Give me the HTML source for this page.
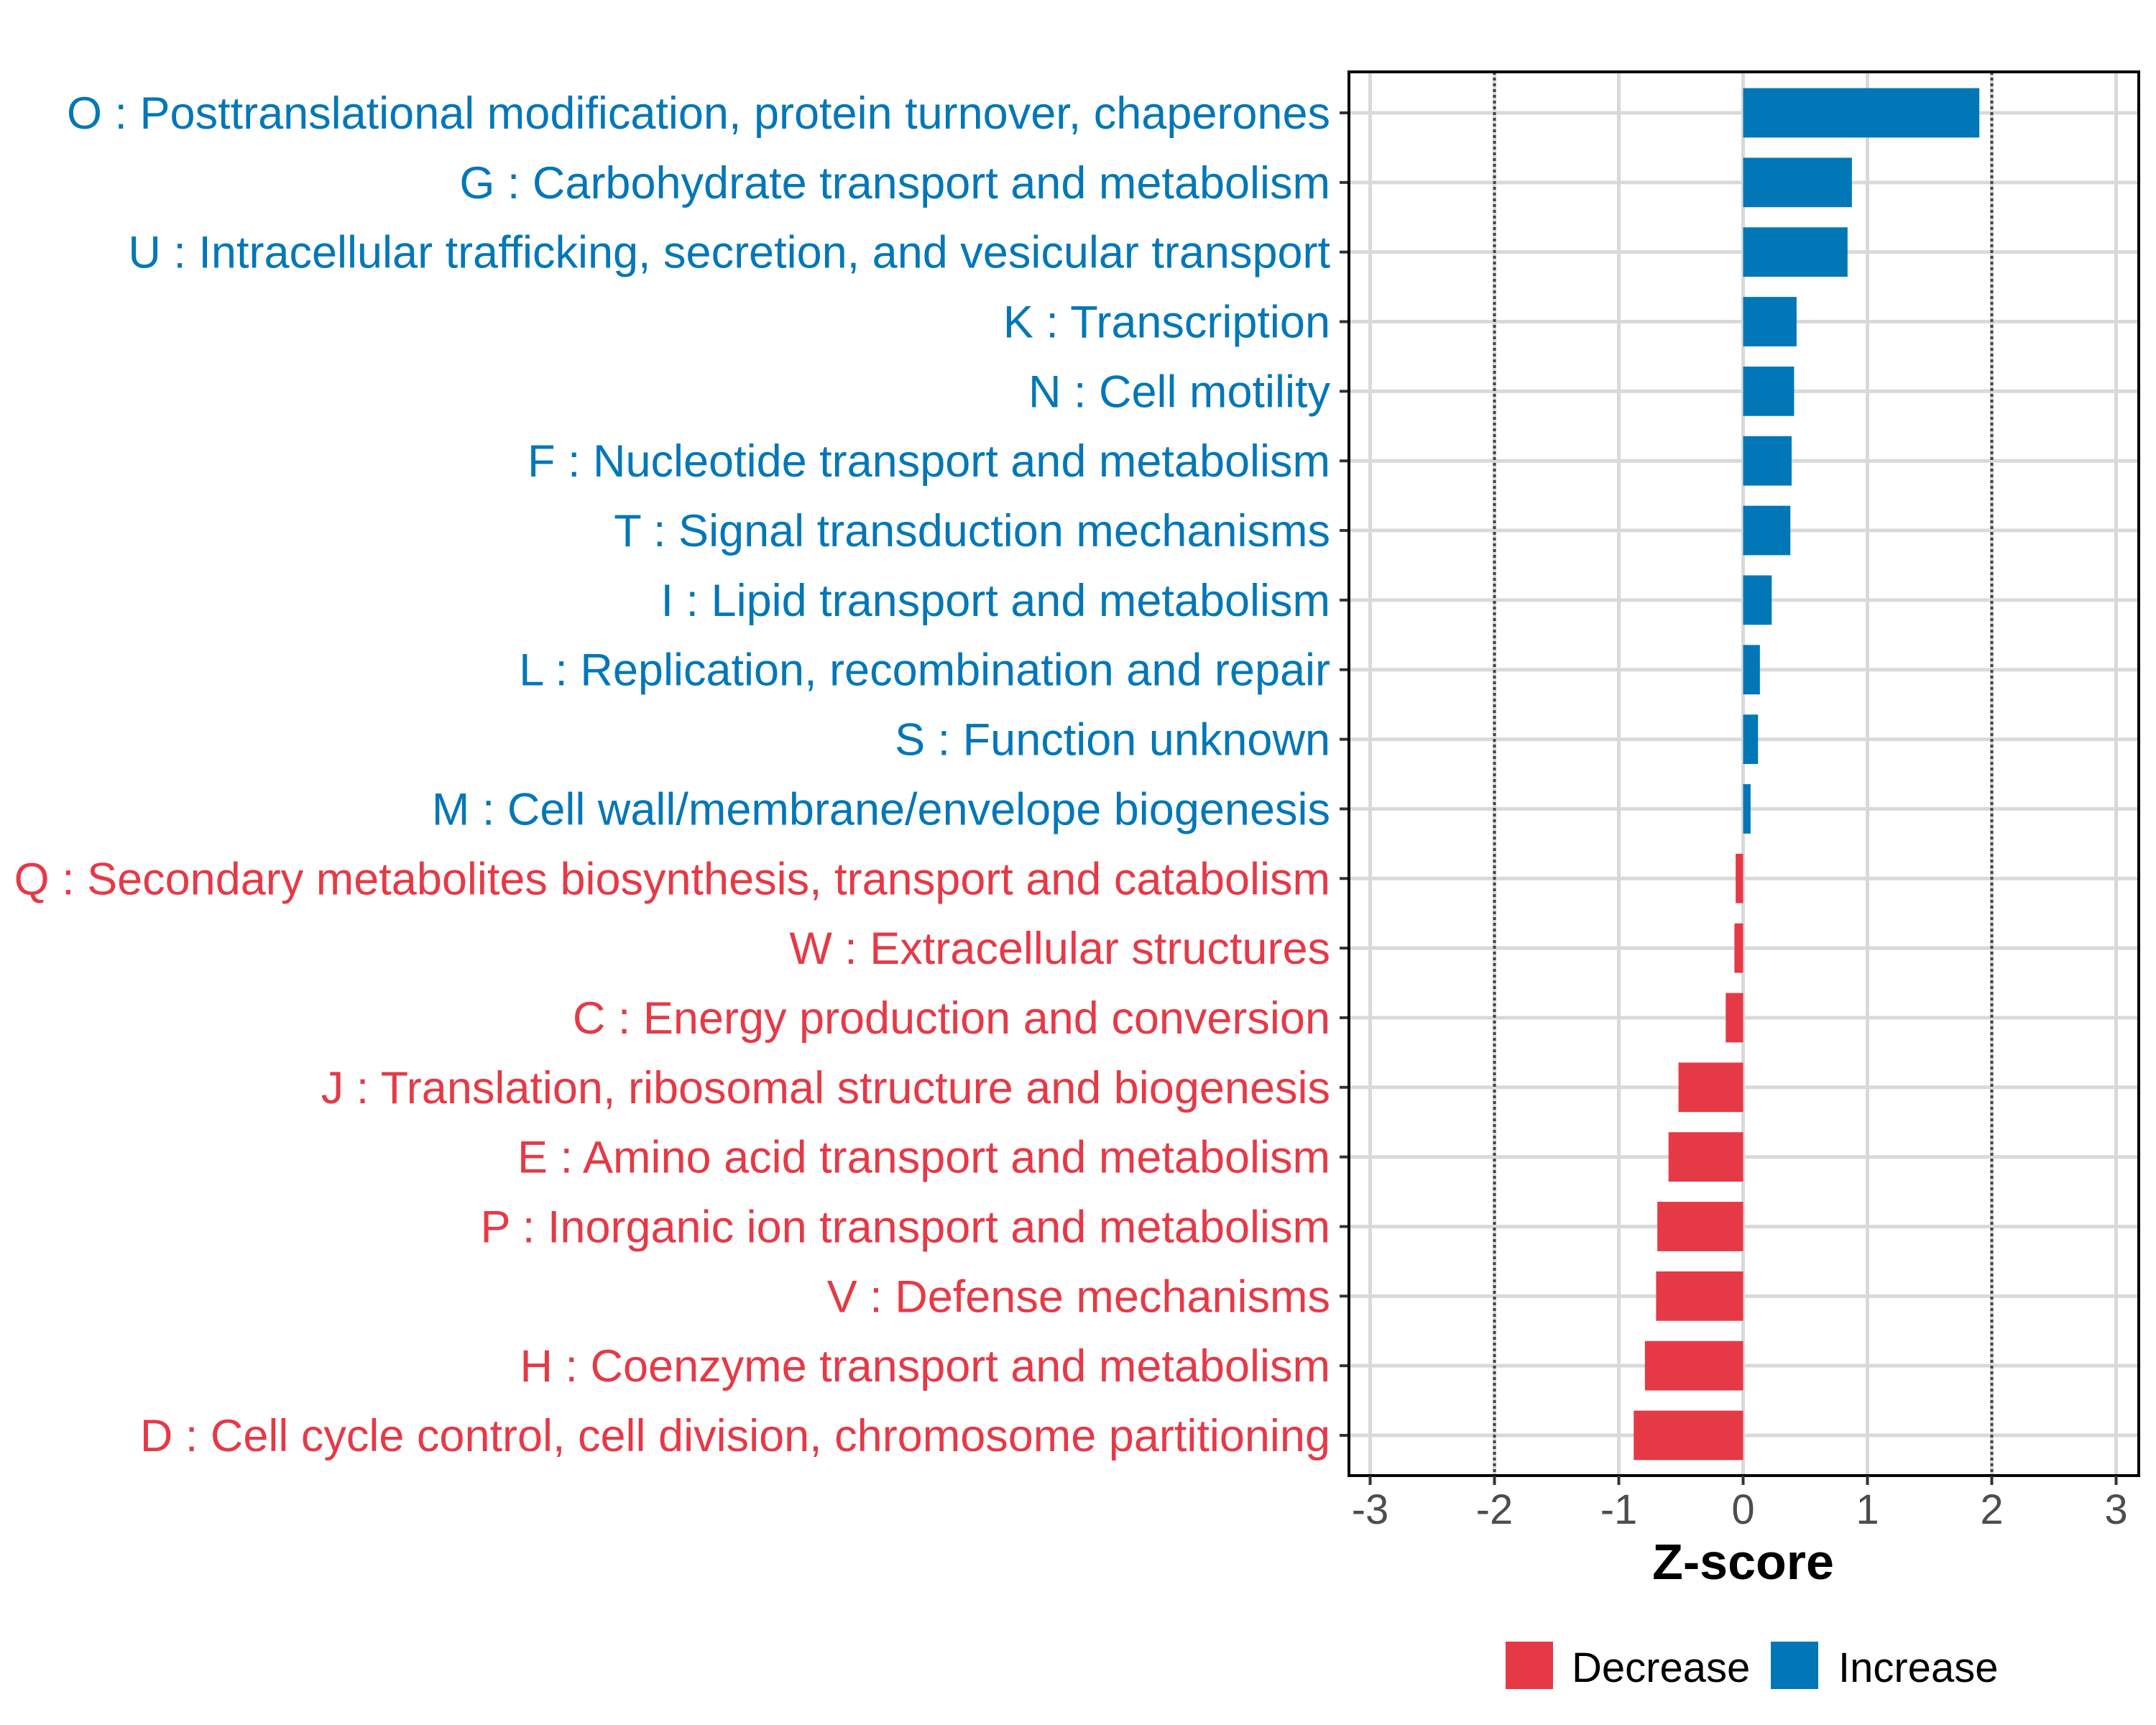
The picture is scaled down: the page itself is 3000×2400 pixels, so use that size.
<!DOCTYPE html>
<html><head><meta charset="utf-8">
<style>html,body{margin:0;padding:0;background:#fff}svg{display:block}</style></head>
<body>
<svg id="chart" width="3000" height="2400" xmlns="http://www.w3.org/2000/svg" font-family="Liberation Sans, sans-serif"></svg>
<script>
const categories = [
"O : Posttranslational modification, protein turnover, chaperones",
"G : Carbohydrate transport and metabolism",
"U : Intracellular trafficking, secretion, and vesicular transport",
"K : Transcription",
"N : Cell motility",
"F : Nucleotide transport and metabolism",
"T : Signal transduction mechanisms",
"I : Lipid transport and metabolism",
"L : Replication, recombination and repair",
"S : Function unknown",
"M : Cell wall/membrane/envelope biogenesis",
"Q : Secondary metabolites biosynthesis, transport and catabolism",
"W : Extracellular structures",
"C : Energy production and conversion",
"J : Translation, ribosomal structure and biogenesis",
"E : Amino acid transport and metabolism",
"P : Inorganic ion transport and metabolism",
"V : Defense mechanisms",
"H : Coenzyme transport and metabolism",
"D : Cell cycle control, cell division, chromosome partitioning"];
const zscores = [1.90,0.875,0.84,0.43,0.41,0.39,0.38,0.23,0.135,0.12,0.06,-0.06,-0.07,-0.14,-0.52,-0.60,-0.69,-0.70,-0.79,-0.88];
const xTicks = [-3,-2,-1,0,1,2,3];
const xTickLabels = ["-3","-2","-1","0","1","2","3"];
const thresholds = [-2,2];

const NS="http://www.w3.org/2000/svg";
const svg=document.getElementById('chart');
const P={l:1877,r:2976,t:100,b:2053};
const zero=2425.5, unit=173;
const x=v=>zero+v*unit;
const rowStep=(1997-157)/(categories.length-1);
const y=i=>157+i*rowStep;
const BLUE="#0277b8", RED="#e63946";
function mk(tag,attrs,parent){const e=document.createElementNS(NS,tag);for(const k in attrs)e.setAttribute(k,attrs[k]);(parent||svg).appendChild(e);return e;}

const grid=mk('g',{});


xTicks.forEach(t=>{const l=mk('line',{x1:x(t),x2:x(t),y1:P.t,y2:P.b,stroke:'#d9d9d9','stroke-width':5},grid);

});
categories.forEach((c,i)=>{const l=mk('line',{x1:P.l,x2:P.r,y1:y(i),y2:y(i),stroke:'#d9d9d9','stroke-width':5},grid);

});

thresholds.forEach(t=>{const l=mk('line',{x1:x(t),x2:x(t),y1:P.t,y2:P.b,stroke:'#444','stroke-width':4,'stroke-dasharray':'4 4'});

});

const bh=rowStep*0.71;
zscores.forEach((v,i)=>{const x0=Math.min(x(0),x(v)),w=Math.abs(x(v)-x(0));
const r=mk('rect',{x:x0,y:y(i)-bh/2,width:w,height:bh,fill:v>=0?BLUE:RED});


const tk=mk('line',{x1:P.l-13,x2:P.l,y1:y(i),y2:y(i),stroke:'#333','stroke-width':4});


const t=mk('text',{x:1851,y:y(i)+22,'text-anchor':'end','font-size':63,fill:v>=0?BLUE:RED});
t.textContent=categories[i];

});

const frame=mk('rect',{x:P.l,y:P.t,width:P.r-P.l,height:P.b-P.t,fill:'none',stroke:'#000','stroke-width':4});



xTicks.forEach((t,i)=>{const l=mk('line',{x1:x(t),x2:x(t),y1:P.b,y2:P.b+13,stroke:'#333','stroke-width':4});


const tx=mk('text',{x:x(t),y:2120,'text-anchor':'middle','font-size':58,fill:'#4d4d4d'});
tx.textContent=xTickLabels[i];

});

const title=mk('text',{x:x(0),y:2197,'text-anchor':'middle','font-size':70,'font-weight':'bold',fill:'#000'});
title.textContent='Z-score';



const lg=mk('g',{});


[["Decrease",RED,2095,2187],["Increase",BLUE,2464,2558]].forEach(([lab,col,kx,tx])=>{
const k=mk('rect',{x:kx,y:2284,width:66,height:66,fill:col},lg);


const t=mk('text',{x:tx,y:2340,'font-size':58,fill:'#000'},lg);
t.textContent=lab;

});
</script>
</body></html>
